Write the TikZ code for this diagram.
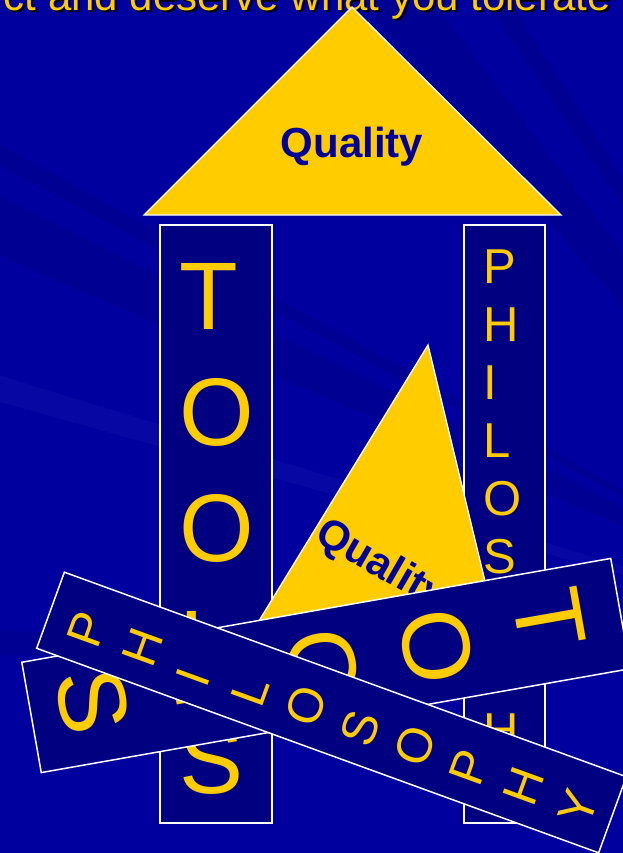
\documentclass[tikz,border=0pt]{standalone}
\usepackage{fontspec}
\setmainfont{Liberation Sans}
\definecolor{bgblue}{RGB}{0,0,158}
\definecolor{navy}{RGB}{0,0,128}
\definecolor{gold}{RGB}{255,204,0}
\definecolor{qblue}{RGB}{0,0,153}
\definecolor{rayblue}{RGB}{60,60,200}
\tikzset{
  pillar/.style={draw=white, line width=1.5pt, fill=navy, inner sep=0pt, outer sep=0pt},
  bigletter/.style={text=gold, font=\fontsize{96}{96}\selectfont, inner sep=0pt, anchor=base west},
  smallletter/.style={text=gold, font=\fontsize{49}{49}\selectfont, inner sep=0pt, anchor=base west},
  tri/.style={draw=white, line width=1.3pt, fill=gold, line join=miter},
  qual/.style={text=qblue, font=\fontsize{42}{42}\selectfont\bfseries, inner sep=0pt},
  titletext/.style={font=\fontsize{42}{50}\selectfont, inner sep=0pt, anchor=base east},
  darkray/.style={fill=navy, fill opacity=0.35},
  lightray/.style={fill=rayblue, fill opacity=0.12},
}
\newcommand\toolspillarX[1]{%
  \node[pillar, minimum width=112pt, minimum height=598pt] (#1) at (0,0) {};
  \foreach \l [count=\i from 0] in {T,O,O,L,S}
    \node[bigletter] (#1-\i) at (-37,{-195+116*\i}) {\l};
}
\newcommand\philpillarX[1]{%
  \node[pillar, minimum width=81pt, minimum height=598pt] (#1) at (0,0) {};
  \foreach \l [count=\i from 0] in {P,H,I,L,O,S,O,P,H,Y}
    \node[smallletter] (#1-\i) at (-21.5,{-241+58*\i}) {\l};
}
\begin{document}
\begin{tikzpicture}[x=1pt,y=-1pt]
\useasboundingbox (0,0) rectangle (623,853);
\clip (0,0) rectangle (623,853);
\fill[bgblue] (0,0) rectangle (623,853);
% background rays
\coordinate (F) at (930,660);
\foreach \a/\b/\s in {0.3/1.8/darkray, 15.5/17/lightray, 23.5/26.5/darkray, 28/29/darkray, 49/53/darkray, 56/57.5/darkray}
  \fill[\s] (F) -- +(180+\a:1500) -- +(180+\b:1500) -- cycle;
% title
\node[titletext, text=black] (tshadow) at (613,13) {ct and deserve what you tolerate};
\node[titletext, text=gold] (title) at (611,11) {ct and deserve what you tolerate};
% top triangle
\coordinate (ta) at (352,7);
\coordinate (tl) at (144,215);
\coordinate (tr) at (561,215);
\filldraw[tri] (ta) -- (tl) -- (tr) -- cycle;
\node[qual, anchor=base] (q1) at (352,158) {Quality};
% pillars
\begin{scope}[shift={(216,524)}]
  \toolspillarX{lp}
\end{scope}
\begin{scope}[shift={(504.5,524)}]
  \philpillarX{rp}
\end{scope}
% small triangle
\coordinate (sa) at (428,345);
\coordinate (sl) at (235,660);
\coordinate (sr) at (504,660);
\filldraw[tri] (sa) -- (sl) -- (sr) -- cycle;
\node[qual, anchor=base west, rotate=-30] (q2) at (313,540) {Quality};
% fallen bars
\begin{scope}[shift={(326,665.5)}, rotate=-80, transform shape]
  \toolspillarX{tb}
\end{scope}
\begin{scope}[shift={(331.5,712.5)}, rotate=70, transform shape]
  \philpillarX{pb}
\end{scope}
\end{tikzpicture}
\end{document}
